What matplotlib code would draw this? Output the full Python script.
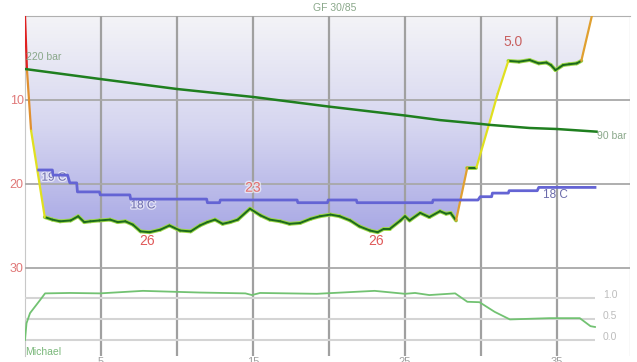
import numpy as np
import matplotlib
matplotlib.use("Agg")
import matplotlib.pyplot as plt
from matplotlib.collections import LineCollection
from matplotlib.colors import LinearSegmentedColormap
from matplotlib.patches import Polygon
import matplotlib.patheffects as pe

plt.rcParams['font.family'] = ['Liberation Sans', 'DejaVu Sans']

# dive profile (minutes, metres)
prof_time = [0, 0.13, 0.4, 1.3, 1.8, 2.3, 3.0, 3.5, 3.9, 4.3, 4.9, 5.6, 6.1, 6.6, 7.1,
             7.6, 8.2, 8.9, 9.5, 10.2, 10.9, 11.5, 12.0, 12.5, 13.0, 13.5, 14.0, 14.8,
             15.5, 16.1, 16.8, 17.4, 18.1, 18.8, 19.4, 20.1, 20.7, 21.4, 22.0, 22.7,
             23.2, 23.6, 24.0, 24.7, 25.0, 25.3, 26.0, 26.6, 27.3, 27.7, 28.0, 28.36,
             29.1, 29.7, 30.6, 31.1, 31.8, 32.5, 33.2, 33.8, 34.3, 34.6, 34.9, 35.4,
             35.8, 36.3, 36.6, 37.3]
prof_depth = [0, 6.5, 13.7, 24.0, 24.3, 24.5, 24.4, 23.9, 24.6, 24.5, 24.4, 24.3, 24.6,
              24.5, 24.9, 25.7, 25.8, 25.5, 25.0, 25.6, 25.7, 25.0, 24.6, 24.3, 24.8,
              24.6, 24.3, 23.0, 23.8, 24.3, 24.5, 24.8, 24.7, 24.2, 23.9, 23.7, 23.9,
              24.4, 25.1, 25.6, 25.8, 25.4, 25.4, 24.4, 23.9, 24.4, 23.5, 24.0, 23.3,
              23.6, 23.5, 24.4, 18.1, 18.1, 12.5, 9.3, 5.4, 5.5, 5.3, 5.7, 5.6, 5.9,
              6.5, 5.9, 5.8, 5.7, 5.4, 0]

# water temperature (°C)
temp_time = [0.9, 1.8, 1.85, 2.8, 2.95, 3.4, 3.45, 4.9, 4.95, 6.9, 6.95, 11.95, 12.0,
             12.8, 12.85, 17.9, 17.95, 19.9, 19.95, 21.8, 21.85, 26.8, 26.85, 29.8,
             29.95, 30.7, 30.75, 31.8, 31.85, 33.7, 33.8, 37.5]
temp_c = [19.0, 19.0, 18.83, 18.83, 18.57, 18.57, 18.27, 18.27, 18.17, 18.17, 18.03,
          18.03, 17.91, 17.91, 18.0, 18.0, 17.91, 17.91, 18.0, 18.0, 17.91, 17.91,
          18.0, 18.0, 18.11, 18.11, 18.23, 18.23, 18.31, 18.31, 18.42, 18.42]

# tank pressure (bar)
pres_time = [0, 5, 10, 15, 20, 25, 27.3, 30, 30.6, 33.2, 35, 37.6]
pres_bar = [220, 199, 178.5, 162, 142, 123.5, 114, 106, 104, 97.6, 95.5, 90]

# lower panel (pO2)
po2_time = [0, 0.1, 0.33, 0.99, 1.32, 2.96, 4.93, 7.76, 11.5, 14.5, 14.93, 15.46, 19.2,
            23.0, 25.0, 25.66, 26.6, 28.3, 29.1, 29.9, 30.9, 31.9, 34.5, 36.5, 37.2, 37.5]
po2_val = [0, 0.4, 0.64, 0.95, 1.11, 1.12, 1.11, 1.17, 1.13, 1.11, 1.07, 1.12, 1.10,
           1.17, 1.10, 1.12, 1.07, 1.11, 0.91, 0.90, 0.67, 0.49, 0.52, 0.52, 0.33, 0.31]

x_ticks = [5, 10, 15, 20, 25, 30, 35]
x_labels = ["5", "", "15", "", "25", "", "35"]
depth_ticks = [10, 20, 30]
po2_ticks = [0.0, 0.5, 1.0]

W, H = 637, 362
fig = plt.figure(figsize=(W / 100, H / 100), dpi=100)
XMAX = 605 / 15.2
DMAX = 340.5 / 8.4

ax = fig.add_axes([25 / W, 6 / H, 605 / W, 340.5 / H])
ax.set_xlim(0, XMAX)
ax.set_ylim(DMAX, 0)
for s in ax.spines.values():
    s.set_visible(False)
ax.spines['top'].set_visible(True)
ax.spines['top'].set_color('#b0b0b0')
ax.spines['left'].set_visible(True)
ax.spines['left'].set_color('#c8c8c8')

# gradient fill above the profile
cmap = LinearSegmentedColormap.from_list('dive', ['#f4f4f7', '#d6d6f0', '#a6a6e4'])
grad = np.linspace(0, 1, 256).reshape(-1, 1)
im = ax.imshow(grad, extent=[0, XMAX, 26.5, 0], aspect='auto', cmap=cmap, zorder=1)
poly = Polygon(np.column_stack([prof_time, prof_depth]), closed=True,
               facecolor='none', edgecolor='none')
ax.add_patch(poly)
im.set_clip_path(poly)
ax.set_ylim(DMAX, 0)

# grid
ax.set_xticks(x_ticks)
ax.set_xticklabels(x_labels)
ax.set_yticks(depth_ticks)
ax.grid(axis='x', color='#a0a0a0', lw=1.6, zorder=2)
ax.grid(axis='y', color='#a8a8a8', lw=1.3, zorder=2)
ax.set_axisbelow(False)
ax.tick_params(length=0)
ax.tick_params(axis='y', colors='#e07878', labelsize=9, pad=1)
ax.tick_params(axis='x', colors='#a0a0a0', labelsize=8, pad=1)
ax.axvline(XMAX, color='#e0e0e0', lw=1)

# profile coloured by vertical speed
t = np.array(prof_time)
d = np.array(prof_depth)
speed = np.diff(d) / np.diff(t)
cols = []
for v in speed:
    if v > 30:
        cols.append('#e02020')
    elif v > 15:
        cols.append('#e09030')
    elif v > 5:
        cols.append('#e0e020')
    elif v < -7:
        cols.append('#e0a030')
    elif v < -4:
        cols.append('#e0e020')
    else:
        cols.append(None)
segs = [[(t[i], d[i]), (t[i + 1], d[i + 1])] for i in range(len(speed))]
green = [s for s, c in zip(segs, cols) if c is None]
other = [s for s, c in zip(segs, cols) if c is not None]
ax.add_collection(LineCollection(green, colors='#9ed84a', lw=2.8, zorder=4,
                                 capstyle='round'))
ax.add_collection(LineCollection(green, colors='#1c6a1c', lw=1.4, zorder=5,
                                 capstyle='round'))
ax.add_collection(LineCollection(other, colors=[c for c in cols if c is not None],
                                 lw=1.6, zorder=5, capstyle='round'))

# temperature
ax_t = ax.twinx()
ax_t.set_ylim(19 - 186 / 30, 19 + 154.5 / 30)
ax_t.axis('off')
ax_t.plot(temp_time, temp_c, color='#6464d4', lw=2, zorder=3)

# pressure
ax_p = ax.twinx()
ax_p.set_ylim(220 - 287 / 0.482, 220 + 53.5 / 0.482)
ax_p.axis('off')
ax_p.plot(pres_time, pres_bar, color='#1f7f1f', lw=1.8)

# lower panel
ax_o = fig.add_axes([25 / W, 6 / H, 605 / W, 71 / H])
ax_o.patch.set_alpha(0)
ax_o.set_xlim(0, XMAX)
ax_o.set_ylim(-16 / 42, 55 / 42)
ax_o.axis('off')
ax_o.hlines(po2_ticks, 0, 37.5, color='#d4d4d4', lw=1.5)
ax_o.plot(po2_time, po2_val, color='#72c272', lw=1.3)
for v in po2_ticks:
    ax_o.text(38.5, v + 0.08, f"{v:.1f}", color='#bdbdbd', fontsize=7.5,
              ha='center', va='center')

# annotations
halo = [pe.withStroke(linewidth=2, foreground='white', alpha=0.6)]
ax.text(8.03, 26.8, "26", color='#e05a5a', fontsize=10, ha='center', va='center', zorder=6)
ax.text(23.1, 26.8, "26", color='#e05a5a', fontsize=10, ha='center', va='center', zorder=6)
ax.text(15.0, 20.5, "23", color='#e07070', fontsize=10, ha='center', va='center', zorder=6,
        path_effects=halo)
ax.text(32.1, 3.1, "5.0", color='#c86060', fontsize=10, ha='center', va='center', zorder=6)
ax.text(1.9, 19.3, "19 C", color='#7070b0', fontsize=8.5, ha='center', va='center',
        zorder=6, path_effects=halo)
ax.text(7.76, 22.6, "18 C", color='#7070b0', fontsize=8.5, ha='center', va='center',
        zorder=6, path_effects=halo)
ax.text(34.9, 21.4, "18 C", color='#6a6aaa', fontsize=8.5, ha='center', va='center',
        zorder=6)
ax.text(0.05, 4.9, "220 bar", color='#8aa88a', fontsize=7.5, ha='left', va='center', zorder=6)
ax.text(37.6, 14.4, "90 bar", color='#8aa88a', fontsize=7.5, ha='left', va='center', zorder=6)
fig.text(335 / W, 1 - 8 / H, "GF 30/85", color='#8aa88a', fontsize=7.5,
         ha='center', va='center')
fig.text(25 / W, 1 - 352 / H, "Michael", color='#7ab87a', fontsize=7.5,
         ha='left', va='center')

fig.savefig("out.png", dpi=100)
